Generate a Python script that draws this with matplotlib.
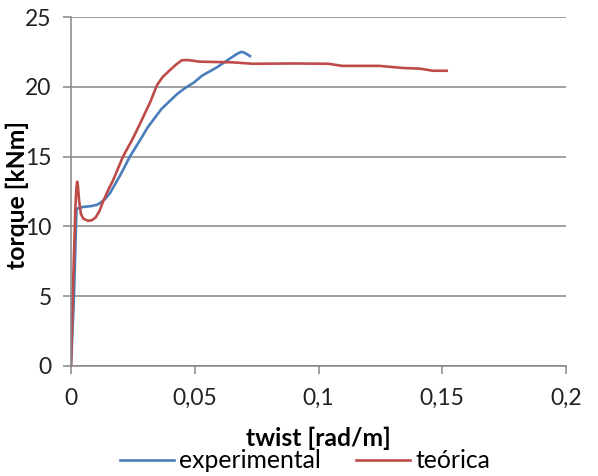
import matplotlib
matplotlib.use("Agg")
import matplotlib.pyplot as plt

plt.rcParams['font.family'] = ['Lato', 'DejaVu Sans']

# torque vs twist curves
exp_twist = [0.0, 0.0012, 0.0022, 0.0028, 0.0050, 0.0080, 0.0105, 0.0120, 0.0140,
             0.0158, 0.0200, 0.0238, 0.0290, 0.0310, 0.0327, 0.0365, 0.0400,
             0.0430, 0.0460, 0.0496, 0.0530, 0.0590, 0.0640, 0.0670, 0.0687,
             0.0700, 0.0723]
exp_torque = [0.0, 5.0, 11.2, 11.3, 11.4, 11.45, 11.55, 11.7, 12.0, 12.4, 13.7,
              15.0, 16.5, 17.1, 17.5, 18.4, 19.0, 19.5, 19.9, 20.3, 20.8, 21.4,
              22.0, 22.35, 22.5, 22.45, 22.2]

teo_twist = [0.0, 0.0007, 0.0018, 0.0022, 0.0025, 0.0028, 0.0033, 0.0040, 0.0050,
             0.0069, 0.0085, 0.0100, 0.0115, 0.0130, 0.0150, 0.0170, 0.0210,
             0.0250, 0.0280, 0.0320, 0.0347, 0.0370, 0.0400, 0.0425, 0.0448,
             0.0470, 0.0520, 0.0655, 0.0735, 0.0900, 0.1040, 0.1095, 0.1245,
             0.1340, 0.1410, 0.1463, 0.1518]
teo_torque = [0.0, 5.0, 11.5, 12.8, 13.2, 12.9, 11.8, 10.9, 10.55, 10.4, 10.45,
              10.65, 11.1, 11.8, 12.6, 13.3, 15.0, 16.3, 17.4, 18.9, 20.1, 20.7,
              21.2, 21.6, 21.9, 21.92, 21.8, 21.75, 21.65, 21.67, 21.65, 21.5,
              21.5, 21.35, 21.3, 21.15, 21.15]

x_ticks = [0, 0.05, 0.1, 0.15, 0.2]
x_tick_labels = ["0", "0,05", "0,1", "0,15", "0,2"]
y_ticks = [0, 5, 10, 15, 20, 25]

blue = "#4a7ebb"
red = "#be4b48"
grey = "#868686"

fig = plt.figure(figsize=(5.98, 4.76), dpi=100)
ax = fig.add_axes([71 / 598, 1 - 366 / 476, 495 / 598, 349 / 476])

ax.plot(exp_twist, exp_torque, color=blue, lw=1.9, label="experimental",
        solid_joinstyle="round")
ax.plot(teo_twist, teo_torque, color=red, lw=1.9, label="teórica",
        solid_joinstyle="round")

ax.set_xlim(0, 0.2)
ax.set_ylim(0, 25)
ax.set_xticks(x_ticks)
ax.set_xticklabels(x_tick_labels)
ax.set_yticks(y_ticks)
ax.yaxis.grid(True, color=grey, lw=1.1)
ax.set_axisbelow(True)

for s in ["top", "right"]:
    ax.spines[s].set_visible(False)
for s in ["left", "bottom"]:
    ax.spines[s].set_color(grey)
    ax.spines[s].set_linewidth(1.1)

ax.tick_params(axis="both", colors=grey, labelcolor="#222222", labelsize=16.5,
               length=6, width=1.1)
ax.tick_params(axis="x", pad=10)
ax.tick_params(axis="y", pad=8)

ax.set_xlabel("twist [rad/m]", fontsize=17.8, fontweight="bold")
ax.xaxis.set_label_coords(0.5, -0.175)
ax.set_ylabel("torque [kNm]", fontsize=17.8, fontweight="bold")
ax.yaxis.set_label_coords(-0.085, 0.49)

fig.legend(loc="center", bbox_to_anchor=(305 / 598, 1 - 461 / 476), ncol=2,
           frameon=False, fontsize=17.8, handlelength=2.2, handletextpad=0.2,
           columnspacing=1.4, borderaxespad=0, borderpad=0)

fig.savefig("out.png", dpi=100)
